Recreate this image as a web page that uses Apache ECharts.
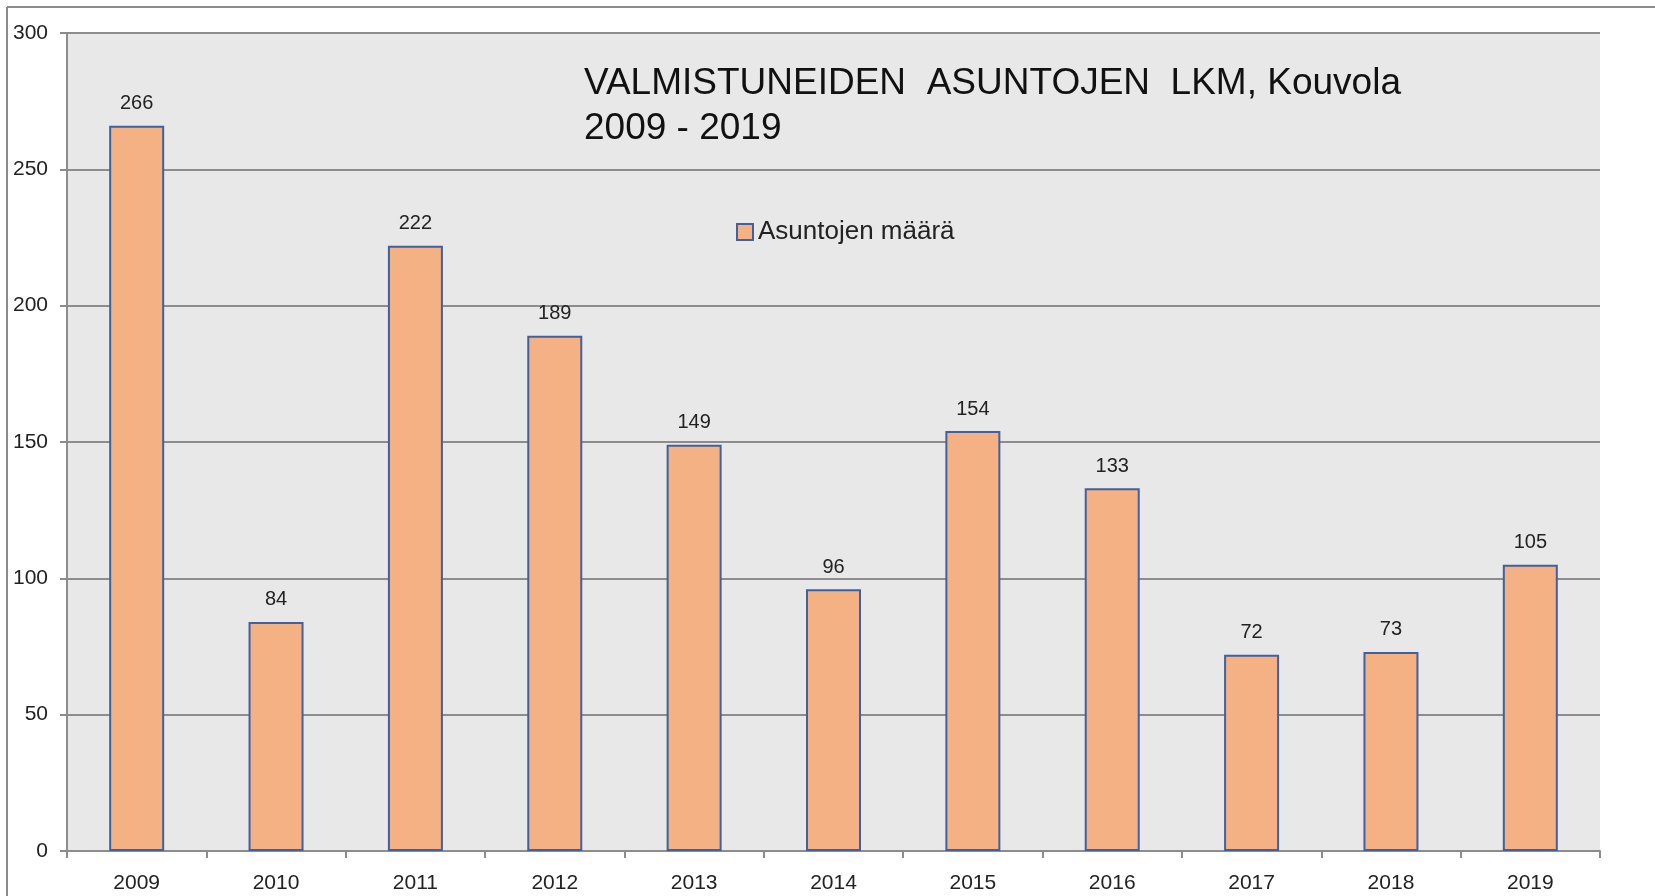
<!DOCTYPE html>
<html>
<head>
<meta charset="utf-8">
<script src="https://cdn.jsdelivr.net/npm/echarts@6/dist/echarts.min.js"></script>
<style>
html,body{margin:0;padding:0;background:#fff;}
#c{width:1655px;height:896px;}
</style>
</head>
<body>
<div id="c"></div>
<script>
const categories = ['2009','2010','2011','2012','2013','2014','2015','2016','2017','2018','2019'];
const values = [266, 84, 222, 189, 149, 96, 154, 133, 72, 73, 105];
const seriesName = 'Asuntojen määrä';
const titleText = 'VALMISTUNEIDEN  ASUNTOJEN  LKM, Kouvola\n2009 - 2019';

const chart = echarts.init(document.getElementById('c'));
chart.setOption({
  backgroundColor: '#ffffff',
  animation: false,
  title: {
    text: titleText,
    left: 584,
    top: 61,
    padding: 0,
    textStyle: {
      fontFamily: 'Liberation Sans',
      fontSize: 37,
      fontWeight: 'normal',
      color: '#111',
      lineHeight: 45
    }
  },
  legend: {
    data: [{ name: seriesName, icon: 'rect' }],
    left: 736,
    top: 219,
    padding: 0,
    itemWidth: 16,
    itemHeight: 16,
    itemGap: 5,
    textStyle: {
      fontFamily: 'Liberation Sans',
      fontSize: 26,
      color: '#222',
      padding: [0, 0, 0, 0]
    }
  },
  graphic: [
    { type: 'line', shape: { x1: 7, y1: 7, x2: 1655, y2: 7 }, style: { stroke: '#8c8c8c', lineWidth: 2 }, silent: true },
    { type: 'line', shape: { x1: 7, y1: 7, x2: 7, y2: 896 }, style: { stroke: '#8c8c8c', lineWidth: 2 }, silent: true }
  ],
  grid: {
    left: 67,
    right: 55,
    top: 33,
    bottom: 45,
    show: true,
    backgroundColor: '#e8e8e8',
    borderWidth: 0
  },
  xAxis: {
    type: 'category',
    data: categories,
    axisLine: { show: true, lineStyle: { color: '#8c8c8c', width: 2 } },
    axisTick: { show: true, alignWithLabel: false, length: 7, lineStyle: { color: '#8c8c8c', width: 2 } },
    axisLabel: { fontFamily: 'Liberation Sans', fontSize: 21, color: '#222', margin: 22 },
    splitLine: { show: false }
  },
  yAxis: {
    type: 'value',
    min: 0,
    max: 300,
    interval: 50,
    axisLine: { show: true, lineStyle: { color: '#8c8c8c', width: 2 } },
    axisTick: { show: true, length: 7, lineStyle: { color: '#8c8c8c', width: 2 } },
    axisLabel: { fontFamily: 'Liberation Sans', fontSize: 21, color: '#222', margin: 19 },
    splitLine: { show: true, lineStyle: { color: '#8c8c8c', width: 2 } }
  },
  series: [{
    name: seriesName,
    type: 'bar',
    data: values,
    barWidth: 55,
    itemStyle: {
      color: '#f4b183',
      borderColor: '#41609f',
      borderWidth: 2
    },
    label: {
      show: true,
      position: 'top',
      distance: 12,
      fontFamily: 'Liberation Sans',
      fontSize: 20,
      color: '#222'
    }
  }]
});
</script>
</body>
</html>
